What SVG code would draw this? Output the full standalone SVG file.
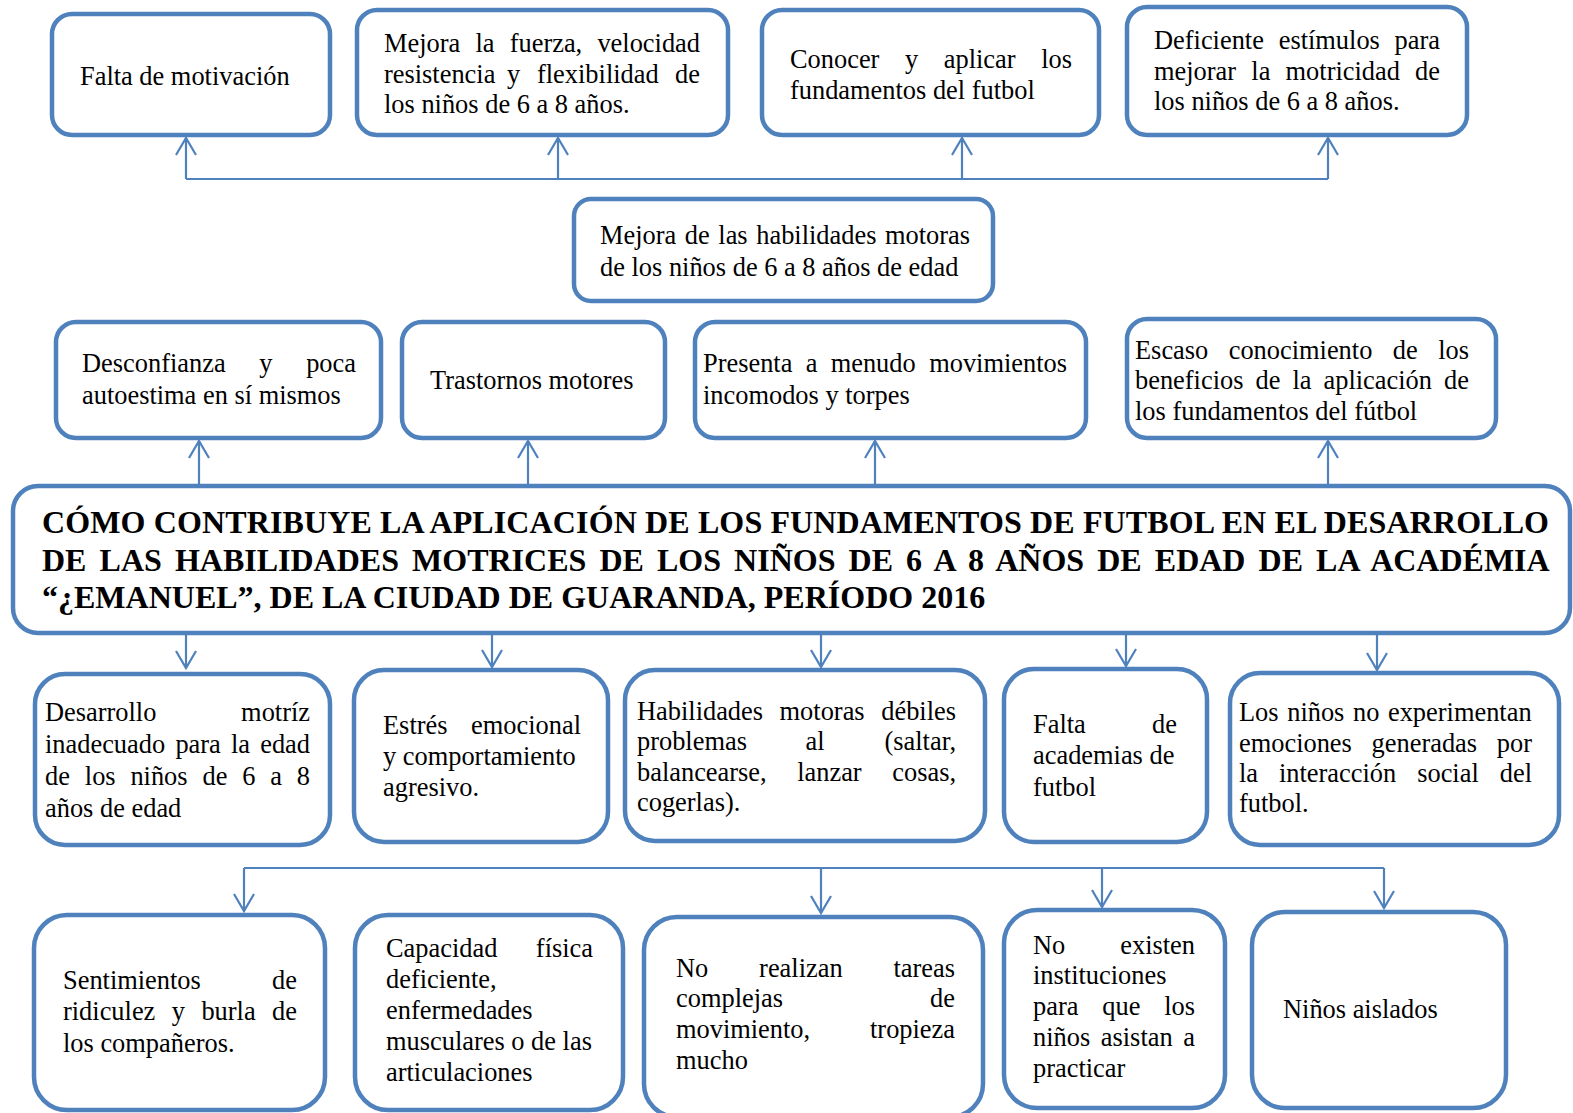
<svg xmlns="http://www.w3.org/2000/svg" width="1573" height="1113" viewBox="0 0 1573 1113">
<style>
.b{fill:#fff;stroke:#4F81BD;stroke-width:4.5}
.c{fill:none;stroke:#4F81BD;stroke-width:2.2}
text{font-family:"Liberation Serif","Times New Roman",serif;font-size:26.4px;fill:#000}
.h{font-weight:bold;font-size:32px}
.e{text-anchor:end}
</style>
<defs>
<marker id="ar" markerUnits="userSpaceOnUse" markerWidth="40" markerHeight="40" viewBox="-20 -20 40 40" refX="0" refY="0" orient="auto" overflow="visible">
<path d="M-17,-10 L0,0 L-17,10" fill="none" stroke="#4F81BD" stroke-width="2.2"/>
</marker>
</defs>
<rect width="1573" height="1113" fill="#fff"/>
<g id="connectors" class="c">
<path d="M186,179 H1328"/>
<path d="M186,179 V138" marker-end="url(#ar)"/>
<path d="M558,179 V138" marker-end="url(#ar)"/>
<path d="M962,179 V138" marker-end="url(#ar)"/>
<path d="M1328,179 V138" marker-end="url(#ar)"/>
<path d="M199,484 V441" marker-end="url(#ar)"/>
<path d="M528,484 V441" marker-end="url(#ar)"/>
<path d="M875,484 V441" marker-end="url(#ar)"/>
<path d="M1328,484 V441" marker-end="url(#ar)"/>
<path d="M186,635 V668" marker-end="url(#ar)"/>
<path d="M492,635 V667" marker-end="url(#ar)"/>
<path d="M821,635 V667" marker-end="url(#ar)"/>
<path d="M1126,635 V666" marker-end="url(#ar)"/>
<path d="M1377,635 V670" marker-end="url(#ar)"/>
<path d="M244,868 H1384"/>
<path d="M244,868 V911" marker-end="url(#ar)"/>
<path d="M821,868 V913" marker-end="url(#ar)"/>
<path d="M1102,868 V907" marker-end="url(#ar)"/>
<path d="M1384,868 V908" marker-end="url(#ar)"/>
</g>
<g id="n1"><rect class="b" x="52" y="14" width="278" height="121" rx="20"/>
<text x="80" y="85">Falta de motivación</text></g>
<g id="n2"><rect class="b" x="357" y="10" width="371" height="125" rx="20"/>
<text y="52"><tspan x="384">Mejora</tspan><tspan x="475.4">la</tspan><tspan x="509.7">fuerza,</tspan><tspan x="700" class="e">velocidad</tspan></text>
<text y="83"><tspan x="384">resistencia</tspan><tspan x="507">y</tspan><tspan x="537">flexibilidad</tspan><tspan x="700" class="e">de</tspan></text>
<text x="384" y="113">los niños de 6 a 8 años.</text></g>
<g id="n3"><rect class="b" x="762" y="10" width="337" height="125" rx="20"/>
<text y="68"><tspan x="790">Conocer</tspan><tspan x="905">y</tspan><tspan x="943.8">aplicar</tspan><tspan x="1072" class="e">los</tspan></text>
<text x="790" y="99">fundamentos del futbol</text></g>
<g id="n4"><rect class="b" x="1127" y="7" width="340" height="128" rx="20"/>
<text y="49"><tspan x="1154">Deficiente</tspan><tspan x="1278.7">estímulos</tspan><tspan x="1440" class="e">para</tspan></text>
<text y="80"><tspan x="1154">mejorar</tspan><tspan x="1251.3">la</tspan><tspan x="1285.6">motricidad</tspan><tspan x="1440" class="e">de</tspan></text>
<text x="1154" y="110">los niños de 6 a 8 años.</text></g>
<g id="n5"><rect class="b" x="574" y="199" width="419" height="102" rx="17"/>
<text x="600" y="244" word-spacing="2">Mejora de las habilidades motoras</text>
<text x="600" y="276">de los niños de 6 a 8 años de edad</text></g>
<g id="n6"><rect class="b" x="56" y="322" width="325" height="116" rx="20"/>
<text y="372"><tspan x="82">Desconfianza</tspan><tspan x="259.3">y</tspan><tspan x="356" class="e">poca</tspan></text>
<text x="82" y="404">autoestima en sí mismos</text></g>
<g id="n7"><rect class="b" x="402" y="322" width="263" height="116" rx="20"/>
<text x="430" y="389">Trastornos motores</text></g>
<g id="n8"><rect class="b" x="695" y="322" width="391" height="116" rx="20"/>
<text y="372"><tspan x="703">Presenta</tspan><tspan x="805.7">a</tspan><tspan x="830.7">menudo</tspan><tspan x="1067" class="e">movimientos</tspan></text>
<text x="703" y="404">incomodos y torpes</text></g>
<g id="n9"><rect class="b" x="1127" y="319" width="369" height="119" rx="20"/>
<text y="359"><tspan x="1135">Escaso</tspan><tspan x="1228.7">conocimiento</tspan><tspan x="1392.8">de</tspan><tspan x="1469" class="e">los</tspan></text>
<text y="389"><tspan x="1135">beneficios</tspan><tspan x="1255.5">de</tspan><tspan x="1292.4">la</tspan><tspan x="1323.5">aplicación</tspan><tspan x="1469" class="e">de</tspan></text>
<text x="1135" y="420">los fundamentos del fútbol</text></g>
<g id="main"><rect class="b" x="13" y="486" width="1557" height="147" rx="25"/>
<text class="h" x="42" y="533" textLength="1507" lengthAdjust="spacing">CÓMO CONTRIBUYE LA APLICACIÓN DE LOS FUNDAMENTOS DE FUTBOL EN EL DESARROLLO</text>
<text class="h" x="42" y="571" word-spacing="5.1">DE LAS HABILIDADES MOTRICES DE LOS NIÑOS DE 6 A 8 AÑOS DE EDAD DE LA ACADÉMIA</text>
<text class="h" x="42" y="608">“¿EMANUEL”, DE LA CIUDAD DE GUARANDA, PERÍODO 2016</text></g>
<g id="n10"><rect class="b" x="35" y="674" width="295" height="171" rx="30"/>
<text y="721"><tspan x="45">Desarrollo</tspan><tspan x="310" class="e">motríz</tspan></text>
<text y="753"><tspan x="45">inadecuado</tspan><tspan x="175.4">para</tspan><tspan x="231">la</tspan><tspan x="310" class="e">edad</tspan></text>
<text y="785"><tspan x="45">de</tspan><tspan x="84.8">los</tspan><tspan x="130.4">niños</tspan><tspan x="202.5">de</tspan><tspan x="242.2">6</tspan><tspan x="270.3">a</tspan><tspan x="310" class="e">8</tspan></text>
<text x="45" y="817">años de edad</text></g>
<g id="n11"><rect class="b" x="354" y="670" width="254" height="172" rx="30"/>
<text y="734"><tspan x="383">Estrés</tspan><tspan x="581" class="e">emocional</tspan></text>
<text x="383" y="765">y comportamiento</text>
<text x="383" y="796">agresivo.</text></g>
<g id="n12"><rect class="b" x="625" y="670" width="360" height="171" rx="30"/>
<text y="720"><tspan x="637">Habilidades</tspan><tspan x="779.6">motoras</tspan><tspan x="956" class="e">débiles</tspan></text>
<text y="750"><tspan x="637">problemas</tspan><tspan x="805.6">al</tspan><tspan x="956" class="e">(saltar,</tspan></text>
<text y="781"><tspan x="637">balancearse,</tspan><tspan x="797.2">lanzar</tspan><tspan x="956" class="e">cosas,</tspan></text>
<text x="637" y="811">cogerlas).</text></g>
<g id="n13"><rect class="b" x="1004" y="669" width="203" height="173" rx="30"/>
<text y="733"><tspan x="1033">Falta</tspan><tspan x="1177" class="e">de</tspan></text>
<text x="1033" y="764">academias de</text>
<text x="1033" y="796">futbol</text></g>
<g id="n14"><rect class="b" x="1230" y="673" width="329" height="172" rx="30"/>
<text x="1239" y="721" word-spacing="2">Los niños no experimentan</text>
<text y="752"><tspan x="1239">emociones</tspan><tspan x="1371.6">generadas</tspan><tspan x="1532" class="e">por</tspan></text>
<text y="782"><tspan x="1239">la</tspan><tspan x="1279">interacción</tspan><tspan x="1417.2">social</tspan><tspan x="1532" class="e">del</tspan></text>
<text x="1239" y="812">futbol.</text></g>
<g id="n15"><rect class="b" x="34" y="915" width="291" height="195" rx="33"/>
<text y="989"><tspan x="63">Sentimientos</tspan><tspan x="297" class="e">de</tspan></text>
<text y="1020"><tspan x="63">ridiculez</tspan><tspan x="171.8">y</tspan><tspan x="201.4">burla</tspan><tspan x="297" class="e">de</tspan></text>
<text x="63" y="1052">los compañeros.</text></g>
<g id="n16"><rect class="b" x="355" y="915" width="268" height="195" rx="33"/>
<text y="957"><tspan x="386">Capacidad</tspan><tspan x="593" class="e">física</tspan></text>
<text x="386" y="988">deficiente,</text>
<text x="386" y="1019">enfermedades</text>
<text x="386" y="1050">musculares o de las</text>
<text x="386" y="1081">articulaciones</text></g>
<g id="n17"><rect class="b" x="644" y="917" width="339" height="200" rx="33"/>
<text y="977"><tspan x="676">No</tspan><tspan x="759.1">realizan</tspan><tspan x="955" class="e">tareas</tspan></text>
<text y="1007"><tspan x="676">complejas</tspan><tspan x="955" class="e">de</tspan></text>
<text y="1038"><tspan x="676">movimiento,</tspan><tspan x="955" class="e">tropieza</tspan></text>
<text x="676" y="1069">mucho</text></g>
<g id="n18"><rect class="b" x="1004" y="910" width="221" height="198" rx="33"/>
<text y="954"><tspan x="1033">No</tspan><tspan x="1195" class="e">existen</tspan></text>
<text x="1033" y="984">instituciones</text>
<text y="1015"><tspan x="1033">para</tspan><tspan x="1102.3">que</tspan><tspan x="1195" class="e">los</tspan></text>
<text y="1046"><tspan x="1033">niños</tspan><tspan x="1100.8">asistan</tspan><tspan x="1195" class="e">a</tspan></text>
<text x="1033" y="1077">practicar</text></g>
<g id="n19"><rect class="b" x="1252" y="912" width="254" height="196" rx="33"/>
<text x="1283" y="1018">Niños aislados</text></g>
</svg>
